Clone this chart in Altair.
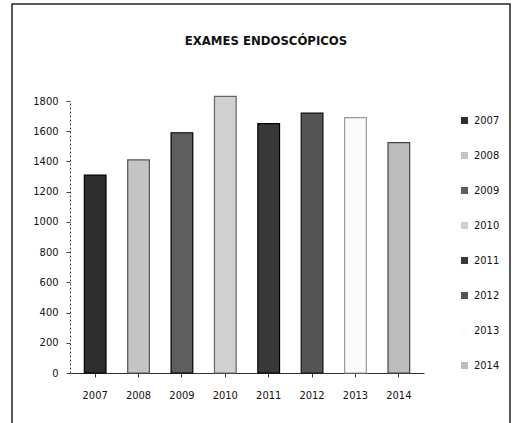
import altair as alt
import pandas as pd

years = ["2007", "2008", "2009", "2010", "2011", "2012", "2013", "2014"]
exams = [1310, 1410, 1590, 1830, 1650, 1720, 1690, 1525]
fills = ["#2e2e2e", "#c4c4c4", "#5e5e5e", "#d0d0d0", "#383838", "#555555", "#fbfbfb", "#bdbdbd"]
strokes = ["#000000", "#555555", "#000000", "#666666", "#000000", "#111111", "#9a9a9a", "#444444"]
y_ticks = [0, 200, 400, 600, 800, 1000, 1200, 1400, 1600, 1800]
title_text = "EXAMES ENDOSCÓPICOS"

df = pd.DataFrame({"ano": years, "exames": exams})
font = "DejaVu Sans Condensed"

bars = alt.Chart(df).mark_bar(strokeWidth=1.2).encode(
    x=alt.X("ano:N", sort=years,
            scale=alt.Scale(paddingInner=0.5, paddingOuter=0.33),
            axis=alt.Axis(title=None, labelAngle=0, labelPadding=12, tickSize=4,
                          domainColor="#333", tickColor="#333",
                          labelFont=font, labelFontSize=11, labelColor="#111")),
    y=alt.Y("exames:Q", scale=alt.Scale(domain=[0, 1800], nice=False),
            axis=alt.Axis(title=None, values=y_ticks, grid=False, tickSize=4, format="d",
                          domainDash=[2, 2], domainColor="#444", tickColor="#444",
                          labelPadding=8,
                          labelFont=font, labelFontSize=11, labelColor="#111")),
    fill=alt.Fill("ano:N", sort=years, scale=alt.Scale(domain=years, range=fills),
                  legend=alt.Legend(title=None, orient="none", legendX=389, legendY=14,
                                    symbolType="square", symbolSize=50, rowPadding=23,
                                    symbolStrokeWidth=0,
                                    labelFont=font, labelFontSize=11, labelColor="#111")),
    stroke=alt.Stroke("ano:N", sort=years, scale=alt.Scale(domain=years, range=strokes),
                      legend=None),
)

frame = alt.Chart(pd.DataFrame({"k": [0]})).mark_rect(
    fill=None, stroke="#222", strokeWidth=1.5
).encode(x=alt.value(-58), x2=alt.value(440), y=alt.value(-97), y2=alt.value(330))

title = alt.Chart(pd.DataFrame({"t": [title_text]})).mark_text(
    font=font, fontSize=13, fontWeight="bold", color="#111", align="center", baseline="middle"
).encode(text="t:N", x=alt.value(196), y=alt.value(-60))

chart = alt.layer(frame, title, bars).properties(
    width=354, height=272,
    autosize=alt.AutoSizeParams(type="none"),
    padding={"left": 70, "top": 101, "right": 88, "bottom": 50},
).configure_view(stroke=None)

chart.save("out.html", embed_options={"renderer": "svg", "actions": False})
